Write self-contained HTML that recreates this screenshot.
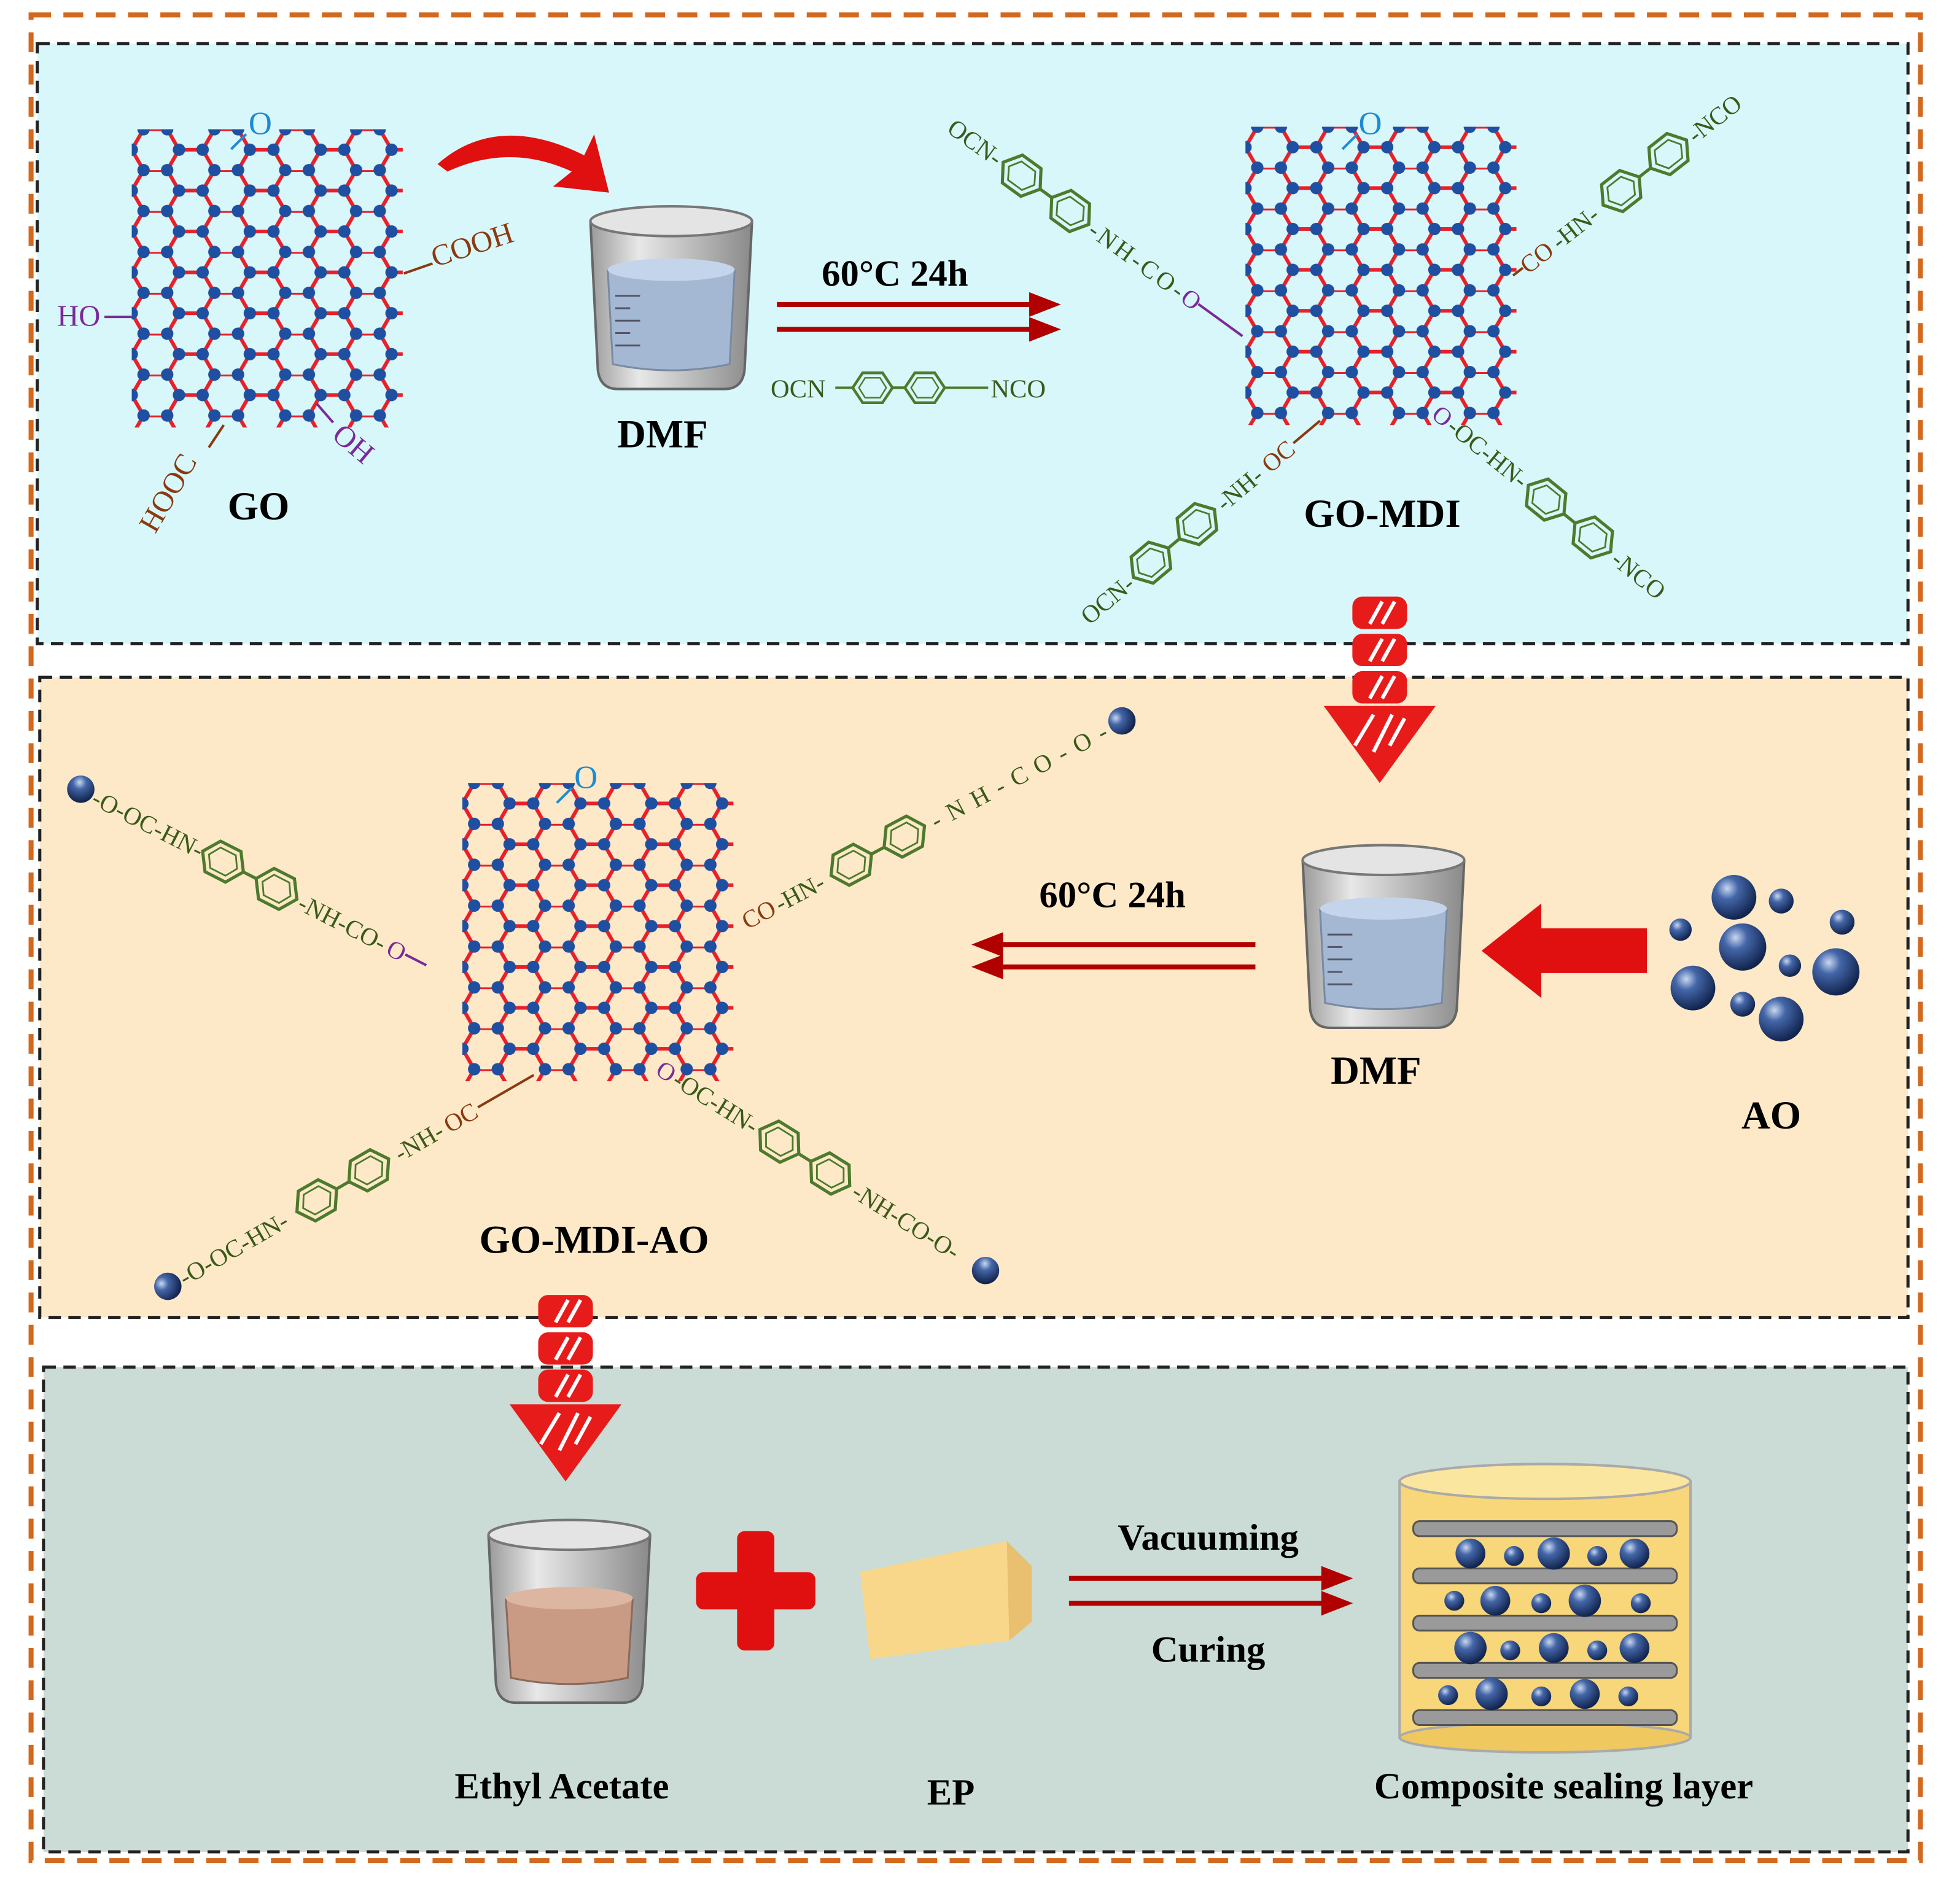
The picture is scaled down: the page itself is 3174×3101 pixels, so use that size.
<!DOCTYPE html>
<html><head><meta charset="utf-8"><style>html,body{margin:0;padding:0;background:#fff}svg{display:block}</style></head>
<body>
<svg width="3174" height="3101" viewBox="0 0 1568 1532" preserveAspectRatio="none" xmlns="http://www.w3.org/2000/svg" font-family="Liberation Serif, serif">
<defs>
<pattern id="hex" width="57" height="32.9" patternUnits="userSpaceOnUse">
<path d="M0 16.45 L9.5 0 L28.5 0 L38 16.45 L57 16.45 M38 16.45 L28.5 32.9 M0 16.45 L9.5 32.9" stroke="#e8202a" stroke-width="3" fill="none"/>
<g fill="#1f4fa0"><circle cx="9.5" cy="0" r="5"/><circle cx="28.5" cy="0" r="5"/><circle cx="38" cy="16.45" r="5"/><circle cx="0" cy="16.45" r="5"/><circle cx="57" cy="16.45" r="5"/><circle cx="9.5" cy="32.9" r="5"/><circle cx="28.5" cy="32.9" r="5"/></g>
</pattern>
<radialGradient id="ball" cx="0.35" cy="0.3" r="0.7"><stop offset="0" stop-color="#c9d8f0"/><stop offset="0.35" stop-color="#4466a8"/><stop offset="1" stop-color="#12254f"/></radialGradient>
<linearGradient id="glass" x1="0" x2="1"><stop offset="0" stop-color="#9a9a9a"/><stop offset="0.3" stop-color="#e8e8e8"/><stop offset="1" stop-color="#8a8a8a"/></linearGradient>
<g id="mdi" fill="none" stroke="#4d7a2c" stroke-width="2.2">
<polygon points="0,0 8,-12 24,-12 32,0 24,12 8,12"/><polygon points="5,0 10,-8 22,-8 27,0 22,8 10,8" stroke-width="1.2"/>
<line x1="32" y1="0" x2="42" y2="0"/>
<polygon points="42,0 50,-12 66,-12 74,0 66,12 50,12"/><polygon points="47,0 52,-8 64,-8 69,0 64,8 52,8" stroke-width="1.2"/>
</g>
<g id="sheet"><rect x="0" y="0" width="218" height="240" fill="url(#hex)"/></g>
<g id="beaker">
<path d="M0 10 L6 130 Q8 145 22 145 L108 145 Q122 145 124 130 L130 10" fill="url(#glass)" stroke="#666" stroke-width="2"/>
<ellipse cx="65" cy="10" rx="65" ry="12" fill="#e4e4e4" stroke="#777" stroke-width="2"/>
<path d="M14 50 Q65 38 116 50 L112 125 Q65 135 18 125 Z" fill="#a4b8d4" stroke="#7a8aa0" stroke-width="1.5"/>
<ellipse cx="65" cy="49" rx="51" ry="9" fill="#c4d4ea"/>
<g stroke="#556" stroke-width="1.5"><line x1="20" y1="70" x2="40" y2="70"/><line x1="20" y1="80" x2="32" y2="80"/><line x1="20" y1="90" x2="40" y2="90"/><line x1="20" y1="100" x2="32" y2="100"/><line x1="20" y1="110" x2="40" y2="110"/></g>
</g>
<g id="striped">
<rect x="-22" y="0" width="44" height="26" rx="8" fill="#e81b1b"/><rect x="-22" y="30" width="44" height="26" rx="8" fill="#e81b1b"/><rect x="-22" y="60" width="44" height="26" rx="8" fill="#e81b1b"/>
<polygon points="-45,88 45,88 0,150" fill="#e81b1b"/>
<g stroke="#fff" stroke-width="3"><line x1="-8" y1="22" x2="2" y2="4"/><line x1="2" y1="22" x2="12" y2="4"/><line x1="-8" y1="52" x2="2" y2="34"/><line x1="2" y1="52" x2="12" y2="34"/><line x1="-8" y1="82" x2="2" y2="64"/><line x1="2" y1="82" x2="12" y2="64"/><line x1="-20" y1="120" x2="-5" y2="95"/><line x1="-5" y1="125" x2="10" y2="95"/><line x1="8" y1="120" x2="20" y2="98"/></g>
</g>
</defs>

<rect x="30" y="35" width="1505" height="483" fill="#d8f7fa" stroke="#222" stroke-width="2.5" stroke-dasharray="10,6"/>
<rect x="32" y="545" width="1503" height="515" fill="#fde9c8" stroke="#222" stroke-width="2.5" stroke-dasharray="10,6"/>
<rect x="35" y="1100" width="1500" height="390" fill="#cadcd5" stroke="#222" stroke-width="2.5" stroke-dasharray="10,6"/>
<rect x="25" y="12" width="1520" height="1485" fill="none" stroke="#d2691e" stroke-width="4" stroke-dasharray="16,10"/>

<g font-size="20">
<use href="#sheet" x="106" y="104"/>
<text x="200" y="108" font-size="26" fill="#1e8ad6">O</text>
<line x1="186" y1="120" x2="198" y2="108" stroke="#1e8ad6" stroke-width="2"/>
<text x="46" y="262" font-size="24" fill="#7a2a9a">HO</text><line x1="84" y1="255" x2="106" y2="255" stroke="#7a2a9a" stroke-width="2"/>
<line x1="325" y1="220" x2="348" y2="212" stroke="#8a3a10" stroke-width="2"/>
<text x="350" y="215" font-size="24" fill="#8a3a10" transform="rotate(-18 350 215)">COOH</text>
<line x1="180" y1="342" x2="168" y2="360" stroke="#8a3a10" stroke-width="2"/>
<text x="125" y="430" font-size="24" fill="#8a3a10" transform="rotate(-60 125 430)">HOOC</text>
<line x1="255" y1="325" x2="268" y2="340" stroke="#7a2a9a" stroke-width="2"/>
<text x="266" y="352" font-size="24" fill="#7a2a9a" transform="rotate(40 266 352)">OH</text>
<text x="208" y="418" font-size="32" font-weight="bold" text-anchor="middle">GO</text>
<path d="M352 132 Q400 90 470 125 L478 108 L490 155 L445 150 L460 138 Q410 115 360 138 Z" fill="#e01010"/>
<use href="#beaker" x="475" y="168"/>
<text x="533" y="360" font-size="32" font-weight="bold" text-anchor="middle">DMF</text>
<text x="720" y="230" font-size="30" font-weight="bold" text-anchor="middle">60°C  24h</text>
<g stroke="#b00000" stroke-width="4" fill="#b00000"><line x1="625" y1="245" x2="835" y2="245"/><line x1="625" y1="265" x2="835" y2="265"/><polygon points="848,245 830,238 830,252"/><polygon points="848,265 830,258 830,272"/></g>
<text x="620" y="320" font-size="21" fill="#3a5a1a">OCN</text><line x1="672" y1="312" x2="686" y2="312" stroke="#4d7a2c" stroke-width="2"/>
<use href="#mdi" x="686" y="312"/>
<line x1="760" y1="312" x2="795" y2="312" stroke="#4d7a2c" stroke-width="2"/>
<text x="797" y="320" font-size="21" fill="#3a5a1a">NCO</text>

<use href="#sheet" x="1002" y="102"/>
<text x="1093" y="108" font-size="26" fill="#1e8ad6">O</text>
<line x1="1080" y1="120" x2="1092" y2="108" stroke="#1e8ad6" stroke-width="2"/>
<text x="1112" y="424" font-size="32" font-weight="bold" text-anchor="middle">GO-MDI</text>
<g transform="translate(765,100) rotate(36)"><text x="0" y="7" fill="#3a5a1a">OCN-</text><use href="#mdi" transform="translate(52,0) scale(1.15)"/><text x="140" y="7" fill="#3a5a1a" textLength="90">-NH-CO-</text><text x="232" y="7" fill="#7a2a9a">O</text><line x1="246" y1="0" x2="290" y2="0" stroke="#7a2a9a" stroke-width="2"/></g>
<g transform="translate(1222,218) rotate(-38)"><line x1="-6" y1="0" x2="4" y2="0" stroke="#8a3a10" stroke-width="2"/><text x="4" y="7" fill="#8a3a10">CO</text><text x="36" y="7" fill="#3a5a1a">-HN-</text><use href="#mdi" transform="translate(86,0) scale(1.15)"/><text x="175" y="7" fill="#3a5a1a">-NCO</text></g>
<g transform="translate(872,498) rotate(-40)"><text x="0" y="7" fill="#3a5a1a">OCN-</text><use href="#mdi" transform="translate(52,0) scale(1.15)"/><text x="142" y="7" fill="#3a5a1a">-NH-</text><text x="190" y="7" fill="#8a3a10">OC</text><line x1="220" y1="0" x2="248" y2="0" stroke="#8a3a10" stroke-width="2"/></g>
<g transform="translate(1155,330) rotate(39)"><text x="0" y="7" fill="#7a2a9a">O</text><text x="16" y="7" fill="#3a5a1a">-OC-HN-</text><use href="#mdi" transform="translate(96,0) scale(1.15)"/><text x="186" y="7" fill="#3a5a1a">-NCO</text></g>

<use href="#striped" x="1110" y="480"/>
<use href="#sheet" x="372" y="630"/>
<text x="462" y="634" font-size="26" fill="#1e8ad6">O</text>
<line x1="448" y1="646" x2="460" y2="634" stroke="#1e8ad6" stroke-width="2"/>
<text x="478" y="1008" font-size="32" font-weight="bold" text-anchor="middle">GO-MDI-AO</text>
<g transform="translate(65,635) rotate(27)"><circle cx="0" cy="0" r="11" fill="url(#ball)"/><text x="12" y="7" fill="#3a5a1a">-O-OC-HN-</text><use href="#mdi" transform="translate(110,0) scale(1.15)"/><text x="198" y="7" fill="#3a5a1a">-NH-CO-</text><text x="278" y="7" fill="#7a2a9a">O</text><line x1="293" y1="0" x2="312" y2="0" stroke="#7a2a9a" stroke-width="2"/></g>
<g transform="translate(598,742) rotate(-28)"><text x="0" y="7" fill="#8a3a10">CO</text><text x="30" y="7" fill="#3a5a1a">-HN-</text><use href="#mdi" transform="translate(80,0) scale(1.15)"/><text x="172" y="7" fill="#3a5a1a" textLength="158">-NH-CO-O-</text><circle cx="345" cy="0" r="11" fill="url(#ball)"/></g>
<g transform="translate(135,1035) rotate(-30)"><circle cx="0" cy="0" r="11" fill="url(#ball)"/><text x="12" y="7" fill="#3a5a1a">-O-OC-HN-</text><use href="#mdi" transform="translate(120,0) scale(1.15)"/><text x="212" y="7" fill="#3a5a1a">-NH-</text><text x="258" y="7" fill="#8a3a10">OC</text><line x1="288" y1="0" x2="340" y2="0" stroke="#8a3a10" stroke-width="2"/></g>
<g transform="translate(530,858) rotate(32)"><text x="0" y="7" fill="#7a2a9a">O</text><text x="16" y="7" fill="#3a5a1a">-OC-HN-</text><use href="#mdi" transform="translate(96,0) scale(1.15)"/><text x="186" y="7" fill="#3a5a1a">-NH-CO-O-</text><circle cx="310" cy="0" r="11" fill="url(#ball)"/></g>
<text x="895" y="730" font-size="30" font-weight="bold" text-anchor="middle">60°C  24h</text>
<g stroke="#b00000" stroke-width="4" fill="#b00000"><line x1="800" y1="760" x2="1010" y2="760"/><line x1="800" y1="778" x2="1010" y2="778"/><polygon points="787,760 805,753 805,767"/><polygon points="787,778 805,771 805,785"/></g>
<use href="#beaker" x="1048" y="682"/>
<text x="1107" y="872" font-size="32" font-weight="bold" text-anchor="middle">DMF</text>
<polygon points="1192,765 1240,727 1240,747 1325,747 1325,783 1240,783 1240,803" fill="#e01010"/>
<g fill="url(#ball)"><circle cx="1395" cy="722" r="18"/><circle cx="1433" cy="725" r="10"/><circle cx="1352" cy="748" r="9"/><circle cx="1402" cy="762" r="19"/><circle cx="1482" cy="742" r="10"/><circle cx="1362" cy="795" r="18"/><circle cx="1440" cy="777" r="9"/><circle cx="1477" cy="782" r="19"/><circle cx="1402" cy="808" r="10"/><circle cx="1433" cy="820" r="18"/></g>
<text x="1425" y="908" font-size="32" font-weight="bold" text-anchor="middle">AO</text>
</g>

<use href="#striped" x="455" y="1042"/>
<g transform="translate(393,1225)">
<path d="M0 10 L6 130 Q8 145 22 145 L108 145 Q122 145 124 130 L130 10" fill="url(#glass)" stroke="#666" stroke-width="2"/>
<ellipse cx="65" cy="10" rx="65" ry="12" fill="#e4e4e4" stroke="#777" stroke-width="2"/>
<path d="M14 62 Q65 50 116 62 L112 125 Q65 135 18 125 Z" fill="#c99a84" stroke="#8a6a5a" stroke-width="1.5"/>
<ellipse cx="65" cy="61" rx="51" ry="9" fill="#dcb6a0"/>
</g>
<rect x="560" y="1265" width="96" height="30" rx="6" fill="#e01010"/><rect x="593" y="1232" width="30" height="96" rx="6" fill="#e01010"/>
<polygon points="692,1265 810,1240 830,1260 830,1305 812,1320 700,1335" fill="#f8d78a"/>
<polygon points="810,1240 830,1260 830,1305 812,1320" fill="#e8c070"/>
<text x="972" y="1247" font-size="30" font-weight="bold" text-anchor="middle">Vacuuming</text>
<g stroke="#b00000" stroke-width="4" fill="#b00000"><line x1="860" y1="1270" x2="1070" y2="1270"/><line x1="860" y1="1290" x2="1070" y2="1290"/><polygon points="1083,1270 1065,1263 1065,1277"/><polygon points="1083,1290 1065,1283 1065,1297"/></g>
<text x="972" y="1337" font-size="30" font-weight="bold" text-anchor="middle">Curing</text>
<g>
<rect x="1126" y="1192" width="234" height="206" fill="#f8d67a" stroke="#aaa" stroke-width="2"/>
<ellipse cx="1243" cy="1398" rx="117" ry="12" fill="#f0c860" stroke="#aaa" stroke-width="2"/>
<ellipse cx="1243" cy="1192" rx="117" ry="14" fill="#fbe6a0" stroke="#aaa" stroke-width="2"/>
<g fill="#9a9a9a" stroke="#555" stroke-width="1.5">
<rect x="1137" y="1224" width="212" height="12" rx="5"/><rect x="1137" y="1262" width="212" height="12" rx="5"/><rect x="1137" y="1300" width="212" height="12" rx="5"/><rect x="1137" y="1338" width="212" height="12" rx="5"/><rect x="1137" y="1376" width="212" height="12" rx="5"/>
</g>
<g fill="url(#ball)">
<circle cx="1183" cy="1250" r="12"/><circle cx="1218" cy="1252" r="8"/><circle cx="1250" cy="1250" r="13"/><circle cx="1285" cy="1252" r="8"/><circle cx="1315" cy="1250" r="12"/>
<circle cx="1170" cy="1288" r="8"/><circle cx="1203" cy="1288" r="12"/><circle cx="1240" cy="1290" r="8"/><circle cx="1275" cy="1288" r="13"/><circle cx="1320" cy="1290" r="8"/>
<circle cx="1183" cy="1326" r="13"/><circle cx="1215" cy="1328" r="8"/><circle cx="1250" cy="1326" r="12"/><circle cx="1285" cy="1328" r="8"/><circle cx="1315" cy="1326" r="12"/>
<circle cx="1165" cy="1364" r="8"/><circle cx="1200" cy="1363" r="13"/><circle cx="1240" cy="1365" r="8"/><circle cx="1275" cy="1363" r="12"/><circle cx="1310" cy="1365" r="8"/>
</g>
</g>
<text x="452" y="1447" font-size="30" font-weight="bold" text-anchor="middle">Ethyl Acetate</text>
<text x="765" y="1452" font-size="30" font-weight="bold" text-anchor="middle">EP</text>
<text x="1258" y="1447" font-size="30" font-weight="bold" text-anchor="middle">Composite sealing layer</text>
</svg>
</body></html>
